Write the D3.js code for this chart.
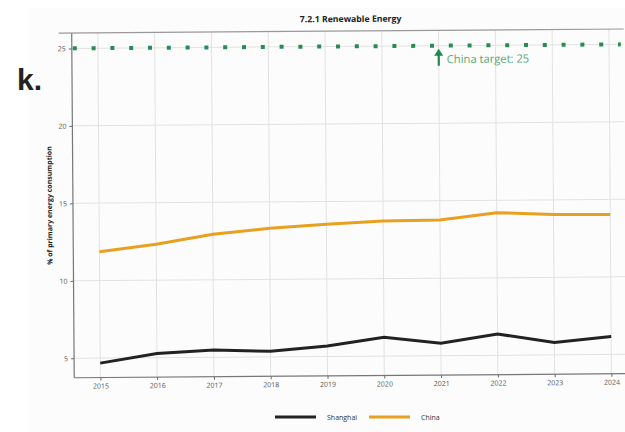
<!DOCTYPE html>
<html><head><meta charset="utf-8">
<script src="https://cdn.jsdelivr.net/npm/d3@7"></script>
<style>body{margin:0;background:#fff}svg{display:block}text{font-family:"Open Sans",sans-serif}</style>
</head><body><svg id="c" width="625" height="432"></svg>
<script>
const years = [2015,2016,2017,2018,2019,2020,2021,2022,2023,2024];
const shanghai = [4.68,5.28,5.47,5.36,5.68,6.21,5.8,6.37,5.79,6.15];
const china = [11.87,12.32,12.94,13.3,13.53,13.72,13.75,14.2,14.05,14.02];
const yTicks = [5,10,15,20,25];
const target = 25;
const targetYear = 2021;
const seriesNames = ["Shanghai","China"];
const colors = {Shanghai:"#222222", China:"#e8a020"};

const svg = d3.select("#c");
svg.append("rect").attr("x",30).attr("y",8).attr("width",595).attr("height",424).attr("fill","#fcfcfc");
svg.append("text").attr("x",17).attr("y",90).text("k.")
  .style("font-family","'Liberation Sans',Arial,sans-serif").style("font-weight","700").style("font-size","30px").attr("fill","#222");

const g = svg.append("g").attr("transform","rotate(-0.42,350,210)");
const L=73, R=625, T=31, B=375.7;
const x = d3.scaleLinear().domain([2014.54,2024.26]).range([L,R]);
const y = d3.scaleLinear().domain([3.75,25.99]).range([B,T]);

g.append("text").attr("x",352).attr("y",22).attr("text-anchor","middle")
  .style("font-size","8.7px").style("font-weight","700").attr("fill","#222").text("7.2.1 Renewable Energy");

// grid
g.selectAll(".vg").data(years).join("line").attr("x1",d=>x(d)).attr("x2",d=>x(d)).attr("y1",T).attr("y2",B)
  .attr("stroke","#e2e2e2").attr("stroke-width",1);
g.selectAll(".hg").data(yTicks).join("line").attr("x1",L).attr("x2",R).attr("y1",d=>y(d)).attr("y2",d=>y(d))
  .attr("stroke","#e2e2e2").attr("stroke-width",1);

// axes
const ya = g.append("g").attr("transform",`translate(${L},0)`).call(d3.axisLeft(y).tickValues(yTicks).tickSize(3).tickPadding(3));
const xa = g.append("g").attr("transform",`translate(0,${B})`).call(d3.axisBottom(x).tickValues(years).tickFormat(d3.format("d")).tickSize(3).tickPadding(3));
[ya,xa].forEach(a=>{a.select(".domain").remove();a.selectAll("line").attr("stroke","#666");
  a.selectAll("text").style("font-size","7px").attr("fill","#555").style("font-family","'Open Sans',sans-serif");});
g.append("line").attr("x1",L).attr("x2",L).attr("y1",T).attr("y2",B).attr("stroke","#777").attr("stroke-width",1.2);
g.append("line").attr("x1",L).attr("x2",R).attr("y1",B).attr("y2",B).attr("stroke","#777").attr("stroke-width",1.2);
g.append("line").attr("x1",60).attr("x2",R).attr("y1",T).attr("y2",T).attr("stroke","#999").attr("stroke-width",1.2);

g.append("text").attr("transform",`translate(52,${(T+B)/2}) rotate(-90)`).attr("text-anchor","middle")
  .style("font-size","7px").style("font-weight","700").attr("fill","#222").text("% of primary energy consumption");

// target
g.append("line").attr("x1",x(2014.54)+1).attr("x2",x(2024.26)-3).attr("y1",y(target)).attr("y2",y(target))
  .attr("stroke","#2a8a55").attr("stroke-width",4).attr("stroke-dasharray","4,14.8");
const ax = x(targetYear);
g.append("line").attr("x1",ax).attr("x2",ax).attr("y1",y(target)+20).attr("y2",y(target)+9)
  .attr("stroke","#1f8a50").attr("stroke-width",2.2);
g.append("path").attr("d",`M${ax-4.5},${y(target)+10}L${ax},${y(target)+3}L${ax+4.5},${y(target)+10}Z`).attr("fill","#1f8a50");
g.append("text").attr("x",ax+8).attr("y",y(target)+17.5).style("font-size","11.2px").attr("fill","#55a877").text("China target: "+target);

// lines
const line = d3.line().x((d,i)=>x(years[i])).y(d=>y(d));
g.append("path").datum(china).attr("d",line).attr("fill","none").attr("stroke",colors.China).attr("stroke-width",3);
g.append("path").datum(shanghai).attr("d",line).attr("fill","none").attr("stroke",colors.Shanghai).attr("stroke-width",3);

// legend
const lx = [275,369];
seriesNames.forEach((n,i)=>{
  svg.append("line").attr("x1",lx[i]).attr("x2",lx[i]+41).attr("y1",417).attr("y2",417).attr("stroke",colors[n]).attr("stroke-width",3);
  svg.append("text").attr("x",lx[i]+52).attr("y",419.5).style("font-size","7px").attr("fill","#333").text(n);
});
</script></body></html>
